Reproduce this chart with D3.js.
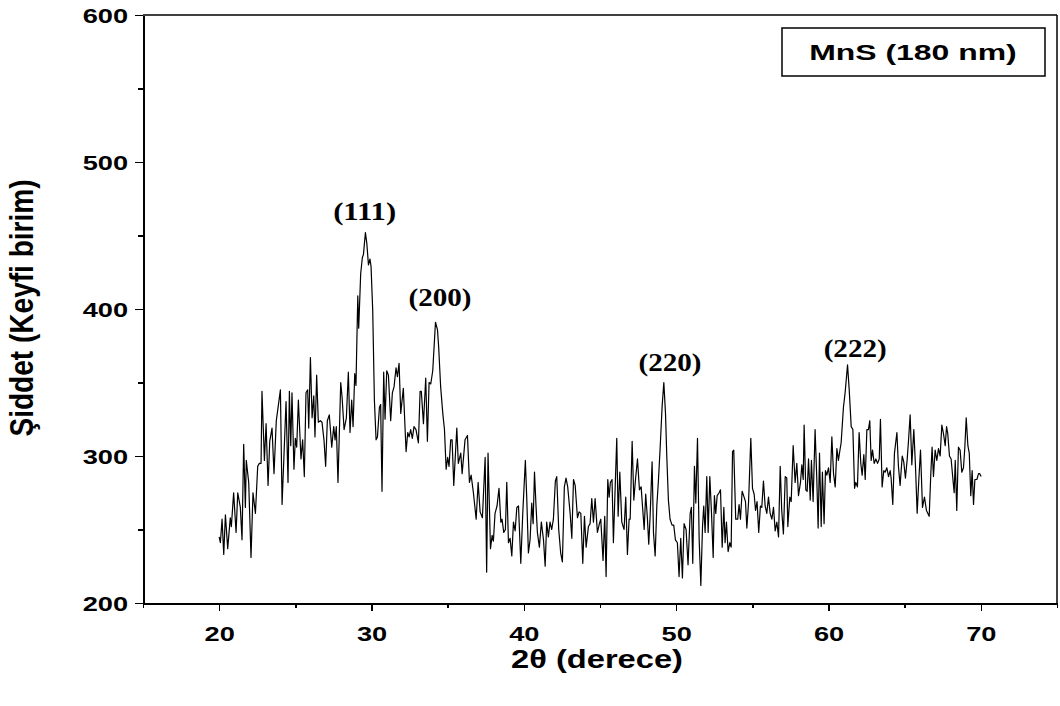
<!DOCTYPE html>
<html lang="tr">
<head>
<meta charset="UTF-8">
<script src="https://d3js.org/d3.v7.min.js"></script>
<title>MnS XRD</title>
<style>
  body { margin: 0; background: #fff; }
  .axis path, .axis line { fill: none; stroke: #000; shape-rendering: crispEdges; }
  .axis text { font-family: Arial, "Liberation Sans", sans-serif; font-weight: bold; font-size: 20px; fill: #000; }
  .peak { font-family: "Liberation Serif", "Times New Roman", serif; font-weight: bold; font-size: 25px; }
</style>
</head>
<body>
<script>
// 2theta (degrees)
var angle = [
  20.0, 20.08, 20.19, 20.30, 20.41, 20.56, 20.73, 20.80, 20.95, 21.11, 21.22, 21.39, 21.50, 21.61, 21.72, 21.78, 21.94,
  22.09, 22.22, 22.38, 22.53, 22.64, 22.75, 22.81, 22.97, 23.08, 23.21, 23.32, 23.47, 23.60, 23.75, 24.02, 24.13,
  24.39, 24.52, 24.61, 24.70, 24.78, 24.91, 25.00, 25.09, 25.20, 25.37, 25.48, 25.59, 25.70, 25.81, 25.88, 25.99,
  26.10, 26.21, 26.29, 26.40, 26.51, 26.64, 26.75, 26.88, 26.99, 27.10, 27.23, 27.39, 27.52, 27.61, 27.69, 27.80,
  27.98, 28.07, 28.20, 28.35, 28.48, 28.59, 28.70, 28.79, 28.90, 28.98,
  29.10, 29.16, 29.29, 29.40, 29.47, 29.60, 29.69, 29.80, 29.90, 29.97, 30.08, 30.19, 30.30, 30.39, 30.52, 30.60,
  30.69, 30.80, 30.89, 31.00, 31.11, 31.26, 31.37, 31.48, 31.61, 31.70, 31.81, 31.92, 32.09, 32.27, 32.38, 32.47,
  32.57, 32.68, 32.79, 32.92, 33.08, 33.19, 33.27, 33.41, 33.56, 33.67, 33.78, 33.89, 34.02, 34.20, 34.33, 34.41,
  34.54, 34.68, 34.79, 34.90, 35.00, 35.09, 35.20, 35.29, 35.40, 35.60, 35.70, 35.86, 35.95, 36.14, 36.30, 36.43,
  36.54, 36.69, 36.87, 37.00, 37.13, 37.28, 37.46, 37.56, 37.65,
  37.81, 37.92, 38.00, 38.11, 38.24, 38.37, 38.49, 38.57, 38.68, 38.79, 38.88, 38.99, 39.10, 39.21, 39.32, 39.43,
  39.54, 39.65, 39.80, 39.93, 40.10, 40.19, 40.30, 40.41, 40.52, 40.61, 40.70, 40.80, 40.89, 41.02, 41.15, 41.29,
  41.40, 41.50, 41.61, 41.72, 41.83, 41.94, 42.07, 42.16, 42.29, 42.42, 42.53, 42.66, 42.77, 42.88, 43.04, 43.15,
  43.26, 43.37, 43.52, 43.63, 43.74, 43.87, 43.98, 44.09, 44.24, 44.35, 44.46, 44.57, 44.68,
  44.83, 44.96, 45.05, 45.20, 45.31, 45.40, 45.51, 45.60, 45.68, 45.79, 45.88, 46.10, 46.19, 46.30, 46.43, 46.58,
  46.69, 46.80, 46.91, 46.98, 47.11, 47.22, 47.33, 47.46, 47.59, 47.70, 47.81, 47.90, 48.00, 48.11, 48.20, 48.29,
  48.42, 48.51, 48.62, 48.73, 48.84, 48.95, 49.08, 49.19, 49.30, 49.38, 49.49, 49.60, 49.73, 49.84, 49.95, 50.08,
  50.19, 50.30, 50.41, 50.52, 50.65, 50.78, 50.92, 51.00, 51.09, 51.20, 51.29, 51.40, 51.51, 51.62, 51.73, 51.81,
  51.90, 52.01, 52.10, 52.21, 52.32, 52.43, 52.51, 52.60, 52.69, 52.82, 52.91, 53.02, 53.13, 53.21, 53.30, 53.41,
  53.52, 53.61, 53.70, 53.78, 53.91, 54.04, 54.13, 54.22, 54.33, 54.46, 54.55, 54.64, 54.75, 54.90, 55.01, 55.12,
  55.21, 55.31, 55.42, 55.53, 55.62, 55.73, 55.84, 55.95, 56.06, 56.17, 56.28, 56.39, 56.50, 56.61, 56.72, 56.83,
  56.93, 57.04, 57.16, 57.26,
  57.33, 57.46, 57.55, 57.68, 57.81, 57.92, 58.03, 58.16, 58.25, 58.34, 58.40, 58.51, 58.60, 58.69, 58.80, 58.88,
  58.99, 59.12, 59.23, 59.32, 59.41, 59.52, 59.60, 59.71, 59.80, 59.89, 60.00, 60.11, 60.22, 60.33, 60.44, 60.55,
  60.65, 60.72, 60.83, 60.98, 61.09, 61.25, 61.36, 61.49, 61.60, 61.71, 61.79, 61.90, 62.01, 62.12, 62.21, 62.32,
  62.41, 62.52, 62.62, 62.71, 62.80, 62.89, 63.00, 63.11, 63.22, 63.33, 63.41, 63.52, 63.63, 63.72, 63.83, 63.94,
  64.05, 64.11, 64.22, 64.33, 64.49, 64.59, 64.70, 64.84, 64.94, 65.05, 65.16, 65.25, 65.36, 65.47, 65.60, 65.71,
  65.82, 65.93, 66.04, 66.17, 66.30, 66.43, 66.61, 66.72, 66.80, 66.89, 67.00, 67.11, 67.22, 67.33, 67.44, 67.55,
  67.66, 67.75, 67.83, 67.94, 68.05, 68.16, 68.25, 68.32, 68.42, 68.53, 68.64, 68.75, 68.86, 68.95, 69.04, 69.15,
  69.24, 69.34, 69.43, 69.52, 69.61, 69.74, 69.85, 69.93, 70.02
];

// intensity (arbitrary units), same order as angle
var intensity = [
  245, 241, 257, 233, 260, 237, 258, 252, 275, 248, 275, 265, 243, 308, 265, 297, 282,
  231, 275, 261, 293, 295, 295, 344, 297, 322, 280, 310, 319, 288, 324, 345, 267,
  337, 282, 344, 307, 343, 291, 312, 306, 338, 298, 311, 286, 343, 345, 319, 367,
  326, 341, 313, 355, 323, 324, 323, 311, 293, 324, 328, 306, 320, 311, 320, 282,
  350, 340, 318, 326, 357, 316, 338, 320, 356, 348,
  409, 387, 424, 435, 437, 452, 445, 430, 434, 429, 399, 338, 311, 313, 333, 335,
  276, 357, 325, 358, 355, 324, 343, 347, 360, 354, 363, 329, 346, 303, 316, 313,
  318, 312, 320, 318, 309, 344, 344, 322, 353, 310, 350, 349, 358, 391, 386, 374,
  347, 329, 318, 291, 299, 293, 311, 311, 280, 319, 295, 302, 288, 311, 314, 282,
  287, 275, 257, 282, 262, 258, 299, 221, 302,
  237, 246, 242, 261, 266, 278, 255, 257, 248, 250, 282, 241, 244, 232, 255, 249,
  265, 266, 227, 261, 297, 272, 234, 243, 268, 254, 289, 266, 248, 238, 255, 243,
  225, 255, 245, 255, 250, 257, 283, 286, 250, 234, 228, 279, 285, 279, 261, 244,
  284, 280, 258, 262, 261, 227, 259, 238, 252, 254, 271, 255, 271,
  248, 254, 257, 229, 259, 218, 284, 272, 282, 284, 241, 312, 259, 289, 255, 250,
  272, 233, 257, 257, 310, 270, 284, 298, 277, 279, 263, 250, 274, 258, 240, 259,
  296, 248, 232, 266, 284, 306, 334, 350, 329, 301, 270, 257, 253, 253, 243, 241,
  218, 244, 217, 254, 250, 226, 261, 265, 227, 293, 268, 312, 243, 212, 252, 266,
  248, 286, 248, 286, 261, 231, 273, 261, 273, 275, 277, 238, 265, 241, 255, 235,
  241, 238, 303, 304, 257, 257, 267, 257, 276, 272, 269, 251, 268, 312, 278, 274,
  263, 269, 248, 266, 265, 283, 266, 261, 272, 261, 257, 265, 249, 255, 245, 293,
  263, 247, 286, 285,
  252, 272, 269, 307, 282, 295, 273, 282, 294, 284, 321, 277, 276, 298, 270, 297,
  269, 318, 285, 251, 302, 252, 289, 254, 290, 287, 292, 282, 313, 288, 279, 305,
  297, 302, 309, 333, 343, 362, 345, 320, 318, 278, 282, 279, 316, 295, 287, 301,
  284, 318, 318, 324, 297, 304, 295, 298, 295, 298, 325, 279, 290, 289, 292, 286,
  290, 285, 267, 302, 316, 293, 280, 300, 296, 285, 297, 310, 328, 294, 318, 293,
  261, 284, 304, 265, 272, 263, 259, 289, 306, 286, 304, 297, 305, 300, 321, 315,
  307, 320, 315, 300, 298, 285, 275, 297, 263, 306, 304, 289, 292, 306, 326, 307,
  302, 273, 290, 267, 284, 284, 288, 288, 286
];

// axis ticks
var xMajor = [20, 30, 40, 50, 60, 70];
var xMinor = [15, 25, 35, 45, 55, 65, 75];
var yMajor = [200, 300, 400, 500, 600];
var yMinor = [250, 350, 450, 550];

// peak annotations (hkl) and where they sit, in data units
var peakNames = ["(111)", "(200)", "(220)", "(222)"];
var peakLabelX = [29.55, 34.5, 49.6, 61.75];
var peakLabelY = [460.5, 402, 357.5, 367.5];

var sampleName = "MnS (180 nm)";
var xTitle = "2θ (derece)";
var yTitle = "Şiddet (Keyfi birim)";

var W = 1060, H = 706;
var plotL = 143, plotR = 1057, plotT = 15, plotB = 603;
var stretch = 1.36; // the original picture is widened horizontally

var x = d3.scaleLinear().domain([15, 75]).range([plotL, plotR]);
var y = d3.scaleLinear().domain([200, 600]).range([plotB, plotT]);

var svg = d3.select("body").append("svg")
    .attr("width", W)
    .attr("height", H);

// widen a text node by a factor
function widen(sel, factor) {
  sel.each(function() {
    var len = this.getComputedTextLength();
    d3.select(this).attr("textLength", len * factor).attr("lengthAdjust", "spacingAndGlyphs");
  });
}

// frame: top and right lines
svg.append("line")
    .attr("x1", plotL).attr("x2", plotR).attr("y1", plotT).attr("y2", plotT)
    .attr("stroke", "#000").attr("stroke-width", 1.5);
svg.append("line")
    .attr("x1", plotR).attr("x2", plotR).attr("y1", plotT).attr("y2", plotB)
    .attr("stroke", "#000").attr("stroke-width", 1.5);

// x axis
var gx = svg.append("g")
    .attr("class", "x axis")
    .attr("transform", "translate(0," + plotB + ")")
    .call(d3.axisBottom(x).tickValues(xMajor).tickSize(8).tickSizeOuter(0));
gx.select(".domain").attr("stroke-width", 2);
gx.selectAll(".tick line").attr("stroke-width", 1.5);
gx.selectAll("text").attr("y", 38).attr("dy", null);
widen(gx.selectAll("text"), stretch);

svg.append("g")
    .attr("class", "axis")
    .attr("transform", "translate(0," + plotB + ")")
    .call(d3.axisBottom(x).tickValues(xMinor).tickSize(5).tickFormat(""))
  .call(function(g) { g.select(".domain").remove(); })
  .selectAll("line").attr("stroke-width", 1.5);

// y axis
var gy = svg.append("g")
    .attr("class", "y axis")
    .attr("transform", "translate(" + plotL + ",0)")
    .call(d3.axisLeft(y).tickValues(yMajor).tickSize(8).tickPadding(7).tickSizeOuter(0));
gy.select(".domain").attr("stroke-width", 2);
gy.selectAll(".tick line").attr("stroke-width", 1.5);
gy.selectAll("text").attr("dy", "0.36em");
widen(gy.selectAll("text"), stretch);

svg.append("g")
    .attr("class", "axis")
    .attr("transform", "translate(" + plotL + ",0)")
    .call(d3.axisLeft(y).tickValues(yMinor).tickSize(5).tickFormat(""))
  .call(function(g) { g.select(".domain").remove(); })
  .selectAll("line").attr("stroke-width", 1.5);

// pattern
var line = d3.line()
    .x(function(d, i) { return x(angle[i]); })
    .y(function(d) { return y(d); });

svg.append("path")
    .datum(intensity)
    .attr("d", line)
    .attr("fill", "none")
    .attr("stroke", "#000")
    .attr("stroke-width", 1.2)
    .attr("stroke-linejoin", "round");

// peak labels
svg.selectAll(".peak")
    .data(peakNames)
  .enter().append("text")
    .attr("class", "peak")
    .attr("x", function(d, i) { return x(peakLabelX[i]); })
    .attr("y", function(d, i) { return y(peakLabelY[i]); })
    .attr("text-anchor", "middle")
    .attr("textLength", 63)
    .attr("lengthAdjust", "spacingAndGlyphs")
    .text(function(d) { return d; });

// sample box
svg.append("rect")
    .attr("x", 782).attr("y", 28)
    .attr("width", 263).attr("height", 48)
    .attr("fill", "#fff")
    .attr("stroke", "#000")
    .attr("stroke-width", 1.5);
svg.append("text")
    .attr("x", 913).attr("y", 60)
    .attr("text-anchor", "middle")
    .style("font-family", "Arial, 'Liberation Sans', sans-serif")
    .style("font-weight", "bold")
    .style("font-size", "22px")
    .text(sampleName)
    .call(widen, 1.45);

// axis titles
svg.append("text")
    .attr("x", 597).attr("y", 668)
    .attr("text-anchor", "middle")
    .style("font-family", "Arial, 'Liberation Sans', sans-serif")
    .style("font-weight", "bold")
    .style("font-size", "26px")
    .attr("textLength", 172)
    .attr("lengthAdjust", "spacingAndGlyphs")
    .text(xTitle);

svg.append("g")
    .attr("transform", "translate(33,308) scale(" + stretch + ",1) rotate(-90)")
  .append("text")
    .attr("x", 0).attr("y", 0)
    .attr("text-anchor", "middle")
    .style("font-family", "Arial, 'Liberation Sans', sans-serif")
    .style("font-weight", "bold")
    .style("font-size", "24px")
    .attr("textLength", 257)
    .attr("lengthAdjust", "spacingAndGlyphs")
    .text(yTitle);
</script>
</body>
</html>
